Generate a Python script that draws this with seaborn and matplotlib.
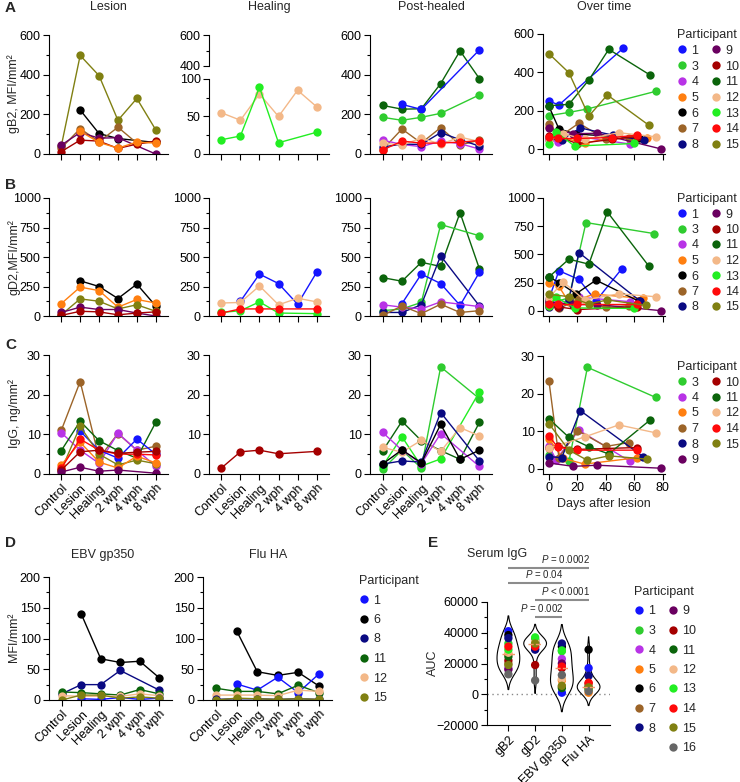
import numpy as np
import pandas as pd
import matplotlib
matplotlib.use("Agg")
import matplotlib.pyplot as plt
import seaborn as sns
from matplotlib.lines import Line2D
from matplotlib.ticker import MultipleLocator, NullLocator

sns.set_theme(style="ticks")
plt.rcParams['font.family'] = ['Liberation Sans', 'DejaVu Sans']
plt.rcParams.update({
    'mathtext.fontset': 'custom',
    'mathtext.rm': 'Liberation Sans',
    'mathtext.it': 'Liberation Sans:italic',
    'axes.linewidth': 0.8,
    'xtick.major.width': 0.8, 'ytick.major.width': 0.8,
    'xtick.minor.width': 0.8, 'ytick.minor.width': 0.8,
    'xtick.major.size': 4, 'ytick.major.size': 4,
    'xtick.minor.size': 2.5, 'ytick.minor.size': 2.5,
    'xtick.labelsize': 9, 'ytick.labelsize': 9,
    'xtick.major.pad': 2, 'ytick.major.pad': 2,
    'xtick.color': 'black', 'ytick.color': 'black',
    'axes.edgecolor': 'black',
})

# ---------------- colours ----------------
COLORS = {1: '#1414ff', 3: '#2fcc2f', 4: '#b833e6', 5: '#ff7f10', 6: '#000000',
          7: '#9c6428', 8: '#0a0a82', 9: '#6a0060', 10: '#a50000', 11: '#0b640b',
          12: '#f3b888', 13: '#22ee22', 14: '#ff0a0a', 15: '#808012', 16: '#666666'}

TIMEPOINTS = ["Control", "Lesion", "Healing", "2 wph", "4 wph", "8 wph"]
N = None

# ---------------- A: gB2 ----------------
A_LESION = {15: [40, 497, 395, 170, 280, 122], 6: [N, 222, 103, 78, N, 58],
            7: [30, 128, 62, 135, 55, 60], 9: [45, 108, 80, 82, N, 0],
            10: [12, 70, 65, 28, 50, 65], 5: [N, 115, 58, 30, 60, 55]}
A_HEALING = {12: [55, 45, 80, 50, 85, 63], 13: [19, 24, 89, 15, N, 29]}
A_POST = {11: [245, 226, 228, 355, 520, 380], 1: [N, 250, 225, N, N, 525],
          3: [185, 170, 185, 205, N, 298], 7: [22, 126, 55, 133, 45, 70],
          4: [70, 48, 37, 65, 52, 25], 8: [35, 50, 48, 108, 72, 40],
          12: [55, 45, 80, 50, 85, 63], 14: [20, 65, 55, 55, 60, 68]}
A_DAYS = {1: [0, 7, 52], 3: [0, 14, 27, 75], 4: [0, 6, 21, 57], 5: [0, 10, 25, 44, 69],
          6: [0, 7, 19, 63], 7: [0, 7, 21, 40, 56], 8: [0, 9, 22, 45, 67], 9: [0, 17, 34, 79],
          10: [0, 6, 20, 44, 62], 11: [0, 14, 28, 42, 71], 12: [0, 10, 25, 49, 75],
          13: [0, 5, 18, 60], 14: [0, 6, 20, 44, 62], 15: [0, 14, 28, 41, 70]}
A_TVALS = {1: [250, 230, 525], 3: [174, 191, 209, 301], 4: [48, 38, 65, 26], 5: [115, 58, 30, 60, 55],
           6: [222, 105, 78, 58], 7: [128, 62, 135, 50, 60], 8: [50, 48, 110, 72, 45], 9: [108, 80, 82, 0],
           10: [70, 65, 28, 50, 65], 11: [226, 233, 360, 520, 386], 12: [45, 80, 50, 85, 64],
           13: [24, 89, 15, 29], 14: [65, 55, 55, 60, 72], 15: [497, 398, 172, 282, 125]}

# ---------------- B: gD2 ----------------
B_LESION = {6: [N, 298, 250, 148, 270, 85], 5: [105, 245, 215, 75, 140, 110],
            15: [10, 145, 125, 60, 95, 40], 9: [30, 75, 55, 55, 25, 0],
            10: [5, 40, 35, 10, 25, 35]}
B_HEALING = {1: [N, 125, 355, 275, 100, 370], 12: [110, 115, 255, 95, 150, 120],
             13: [30, 45, 120, 25, N, 20], 14: [25, 60, 60, 60, N, 60]}
B_POST = {11: [325, 295, 455, 420, 875, 400], 3: [45, 60, 115, 775, N, 680],
          8: [30, 30, 95, 510, N, 85], 1: [N, 105, 355, 275, 90, 370],
          4: [95, 75, 60, 120, N, 80], 7: [5, 85, 20, 100, 30, 45]}
B_DAYS = {1: [0, 7, 21, 33, 51], 3: [0, 14, 26, 74], 4: [0, 5, 21, 57], 5: [0, 7, 14, 32, 66],
          6: [0, 7, 19, 33, 63], 7: [0, 7, 21, 40, 56], 8: [0, 7, 14, 21, 64], 9: [0, 17, 34, 79],
          10: [0, 6, 20, 62], 11: [0, 14, 28, 41, 70], 12: [0, 10, 25, 49, 75], 13: [0, 5, 18, 60],
          14: [0, 6, 20, 62], 15: [0, 14, 28, 41, 68]}
B_TVALS = {1: [105, 355, 277, 86, 370], 3: [60, 115, 782, 684], 4: [75, 60, 120, 80],
           5: [248, 215, 75, 147, 109], 6: [300, 250, 150, 271, 85], 7: [85, 20, 100, 30, 45],
           8: [35, 30, 95, 516, 86], 9: [75, 55, 55, 0], 10: [40, 35, 10, 35],
           11: [300, 457, 413, 876, 398], 12: [115, 255, 95, 150, 124], 13: [45, 120, 25, 20],
           14: [60, 60, 60, 60], 15: [145, 125, 60, 95, 48]}

# ---------------- C: IgG ----------------
C_LESION = {7: [11, 23.3, 4, 10.2, 6, 7], 4: [10.4, 6, 2.7, 10.3, 6, 2],
            11: [5.9, 13.3, 8.4, 5.9, 4, 13], 1: [N, 10.8, 6, 4, 8.8, 5],
            15: [1, 12, 5, 2.3, 3.5, 2.6], 5: [2.3, 8, 3, 1.5, 4.5, 2.8],
            14: [1.5, 8.8, 6, 5, 5, 4.8], 10: [1, 5.6, 6, 5.2, 5.5, 5.7],
            9: [0.5, 1.7, 0.7, 1.0, N, 0.2]}
C_HEALING = {10: [1.5, 5.6, 6.0, 5.1, N, 5.7]}
C_POST = {3: [1.2, 6, 1.5, 27, N, 19], 13: [2, 9.4, 2, 3.8, N, 20.7],
          11: [5.8, 13.3, 8.4, 5.9, 3.7, 13], 12: [6.7, 5.5, 8.5, 5.7, 11.7, 9.6],
          4: [10.5, 6, 2.6, 10.2, N, 1.9], 8: [2.5, 3.3, 3.0, 15.5, N, 3.3],
          6: [2.5, 6.1, 2.8, 12.5, 3.7, 6]}
C_DAYS = {3: [0, 14, 27, 75], 4: [0, 5, 21, 57], 5: [0, 10, 25, 62], 7: [0, 7, 20, 40, 56],
          8: [0, 9, 22, 66], 9: [0, 17, 34, 79], 10: [0, 6, 20, 62], 11: [0, 14, 28, 42, 71],
          12: [0, 25, 49, 75], 14: [0, 6, 20, 62], 15: [0, 14, 27, 42, 69]}
C_TVALS = {3: [3.7, 2, 27, 19], 4: [6, 2.5, 10.3, 2], 5: [8, 2.8, 1.3, 3], 7: [23.3, 3, 10.2, 6, 7],
           8: [3.3, 3, 15.5, 3.3], 9: [1.6, 0.7, 1.0, 0.2], 10: [5.6, 6, 5.2, 5.7],
           11: [13.3, 8.4, 5.9, 4, 13], 12: [5.5, 8.5, 11.7, 9.6], 14: [8.8, 5.8, 5, 5],
           15: [12, 5, 2.3, 3.5, 2.6]}

# ---------------- D: control antigens ----------------
D_EBV = {6: [N, 140, 67, 61, 63, 36], 8: [10, 25, 25, 48, N, 16], 11: [13, 12, 10, 8, 17, 10],
         12: [7, 6, 6, 6, 10, 7], 1: [N, 2, 1, 4, 1, 3], 15: [0, 8, 8, 3, 5, 3]}
D_FLU = {6: [N, 112, 46, 40, 45, 23], 1: [N, 26, 16, 37, 12, 42], 11: [19, 14, 14, 10, 24, 12],
         12: [8, 8, 8, 7, 16, 14], 8: [1, 2, 2, 1, 2, 1], 15: [0, 3, 2, 1, 2, 1]}

# ---------------- E: serum IgG AUC ----------------
E_ANTIGENS = ["gB2", "gD2", "EBV gp350", "Flu HA"]
E_PIDS = [1, 3, 4, 5, 6, 7, 8, 9, 10, 11, 12, 13, 14, 15, 16]
E_GB2 = [41000, 33000, 17000, 26000, 38500, 20000, 36500, 16000, 22000, 24500, 27000, 29000, 31000, 19000, 13000]
E_GD2 = [29500, 36000, 33000, 34000, 33500, 32500, 29000, 31000, 19000, 35000, 34500, 37000, 31000, 33000, 9000]
E_EBV = [1000, 28000, 23000, 9000, 31000, 5000, 33000, 20000, 17000, 4000, 10000, 28500, 18000, 5500, 12500]
E_FLU = [17000, 4000, 5000, 1000, 29000, 3000, 12000, 6000, 7000, 5000, 6000, 3500, 7500, 4500, 2000]
E_BRACKETS = [(0, 3, 82100, "$P$ = 0.0002"), (0, 2, 72400, "$P$ = 0.04"),
              (1, 3, 61300, "$P$ < 0.0001"), (1, 2, 50200, "$P$ = 0.002")]

LEG_A = [1, 3, 4, 5, 6, 7, 8, 9, 10, 11, 12, 13, 14, 15]
LEG_C = [3, 4, 5, 7, 8, 9, 10, 11, 12, 14, 15]
LEG_D = [1, 6, 8, 11, 12, 15]
LEG_E = [1, 3, 4, 5, 6, 7, 8, None, 9, 10, 11, 12, 13, 14, 15, 16]

# ---------------- figure ----------------
W, H = 740, 782
fig = plt.figure(figsize=(W / 100, H / 100), dpi=100)
PAL = {str(k): v for k, v in COLORS.items()}


def add_ax(l, t, r, b):
    return fig.add_axes([l / W, 1 - b / H, (r - l) / W, (b - t) / H])


def ftext(x, y, s, **kw):
    fig.text(x / W, 1 - y / H, s, **kw)


def plot_cat(ax, data):
    rows = [(str(p), i, v) for p, vals in data.items() for i, v in enumerate(vals) if v is not None]
    df = pd.DataFrame(rows, columns=['pid', 'pos', 'val'])
    sns.lineplot(data=df, x='pos', y='val', hue='pid', palette=PAL, marker='o', markersize=6,
                 markeredgewidth=0, linewidth=1, estimator=None, legend=False, ax=ax)


def plot_time(ax, days, vals):
    rows = [(str(p), d, v) for p in days for d, v in zip(days[p], vals[p])]
    df = pd.DataFrame(rows, columns=['pid', 'day', 'val'])
    sns.lineplot(data=df, x='day', y='val', hue='pid', palette=PAL, marker='o', markersize=6,
                 markeredgewidth=0, linewidth=1, estimator=None, legend=False, ax=ax)


def style_cat(ax, ylim, major, minor, labels=False):
    ax.set_xlim(-0.65, 5.65)
    ax.set_xticks(range(6))
    if labels:
        ax.set_xticklabels(TIMEPOINTS, rotation=45, ha='right', rotation_mode='anchor')
    else:
        ax.set_xticklabels([])
    ax.set_ylim(*ylim)
    ax.yaxis.set_major_locator(MultipleLocator(major))
    ax.yaxis.set_minor_locator(MultipleLocator(minor))
    ax.set_xlabel('')
    ax.set_ylabel('')
    sns.despine(ax=ax)


def style_time(ax, ylim, major, minor, labels=False):
    ax.set_xlim(-4.2, 81.5)
    ax.xaxis.set_major_locator(MultipleLocator(20))
    if not labels:
        ax.set_xticklabels([])
    ax.set_ylim(*ylim)
    ax.set_yticks(np.arange(0, ylim[1] + 1e-9, major))
    ax.yaxis.set_minor_locator(NullLocator())
    ax.set_xlabel('')
    ax.set_ylabel('')
    sns.despine(ax=ax)


def legend(pids, x, y, spacing):
    handles, labels = [], []
    for p in pids:
        if p is None:
            handles.append(Line2D([], [], lw=0, marker='o', color='none'))
            labels.append('')
        else:
            handles.append(Line2D([], [], lw=0, marker='o', markersize=6, markeredgewidth=0, color=COLORS[p]))
            labels.append(str(p))
    ncol = 2 if len(pids) > 6 else 1
    fig.legend(handles, labels, ncol=ncol, title='Participant', loc='upper left',
               bbox_to_anchor=(x / W, 1 - y / H), frameon=False, fontsize=9, title_fontsize=9,
               handlelength=0.8, handletextpad=0.35, columnspacing=1.0, labelspacing=spacing,
               borderpad=0, borderaxespad=0, alignment='left')


# ---- Row A ----
ax = add_ax(49, 35, 168, 154); plot_cat(ax, A_LESION); style_cat(ax, (0, 600), 200, 100)
axl = add_ax(209, 79, 329, 154); plot_cat(axl, A_HEALING); style_cat(axl, (0, 100), 50, 25)
axu = add_ax(209, 35, 329, 66)
axu.set_ylim(400, 600); axu.set_yticks([400, 600]); axu.yaxis.set_minor_locator(MultipleLocator(100))
axu.set_xticks([]); sns.despine(ax=axu, bottom=True)
ax = add_ax(370, 35, 492, 154); plot_cat(ax, A_POST); style_cat(ax, (0, 600), 200, 100)
ax = add_ax(543, 34, 665, 154); plot_time(ax, A_DAYS, A_TVALS); style_time(ax, (-26, 600), 200, 100)
legend(LEG_A, 677, 29, 0.3)

# ---- Row B ----
ax = add_ax(49, 198, 168, 316); plot_cat(ax, B_LESION); style_cat(ax, (0, 1000), 250, 125)
ax = add_ax(209, 198, 329, 316); plot_cat(ax, B_HEALING); style_cat(ax, (0, 1000), 250, 125)
ax = add_ax(370, 198, 492, 316); plot_cat(ax, B_POST); style_cat(ax, (0, 1000), 250, 125)
ax = add_ax(543, 198, 665, 316); plot_time(ax, B_DAYS, B_TVALS); style_time(ax, (-47, 1000), 250, 125)
legend(LEG_A, 677, 193, 0.28)

# ---- Row C ----
ax = add_ax(49, 355, 168, 474); plot_cat(ax, C_LESION); style_cat(ax, (0, 30), 10, 5, True)
ax = add_ax(209, 355, 329, 474); plot_cat(ax, C_HEALING); style_cat(ax, (0, 30), 10, 5, True)
ax = add_ax(370, 355, 492, 474); plot_cat(ax, C_POST); style_cat(ax, (0, 30), 10, 5, True)
ax = add_ax(543, 356, 665, 474); plot_time(ax, C_DAYS, C_TVALS); style_time(ax, (-1.33, 30), 10, 5, True)
ax.set_xlabel('Days after lesion', fontsize=9, labelpad=3)
legend(LEG_C, 677, 361, 0.28)

# ---- Row D ----
ax = add_ax(49, 577, 172, 700); plot_cat(ax, D_EBV); style_cat(ax, (0, 200), 50, 25, True)
ax = add_ax(203, 577, 332, 700); plot_cat(ax, D_FLU); style_cat(ax, (0, 200), 50, 25, True)
legend(LEG_D, 359, 575, 0.6)

# ---- Row E ----
ax = add_ax(487, 602, 610, 725)
rows = []
for ag, vals in zip(E_ANTIGENS, [E_GB2, E_GD2, E_EBV, E_FLU]):
    for p, v in zip(E_PIDS, vals):
        rows.append((ag, str(p), v))
dfe = pd.DataFrame(rows, columns=['antigen', 'pid', 'auc'])
ax.axhline(0, color='#888888', ls=(0, (1, 2.5)), lw=1, zorder=0)
sns.violinplot(data=dfe, x='antigen', y='auc', order=E_ANTIGENS, fill=False, color='black',
               linewidth=0.8, inner=None, density_norm='width', width=0.85, cut=2, ax=ax)
sns.stripplot(data=dfe, x='antigen', y='auc', order=E_ANTIGENS, hue='pid', palette=PAL,
              jitter=False, size=6, linewidth=0, legend=False, ax=ax, zorder=3)
for i, ag in enumerate(E_ANTIGENS):
    med = dfe.loc[dfe.antigen == ag, 'auc'].median()
    ax.plot([i - 0.25, i + 0.25], [med, med], ls='--', color='#f4996a', lw=1, zorder=4)
for x1, x2, yv, lab in E_BRACKETS:
    ax.plot([x1, x2], [yv, yv], color='#8c8c8c', lw=1.5, clip_on=False, solid_capstyle='butt')
    ax.annotate(lab, xy=(x2 + 0.05, yv), xytext=(0, 2), textcoords='offset points',
                ha='right', va='bottom', fontsize=7, annotation_clip=False)
ax.set_xlim(-0.8, 3.8)
ax.set_ylim(-20000, 60000)
ax.yaxis.set_major_locator(MultipleLocator(20000))
ax.yaxis.set_minor_locator(MultipleLocator(10000))
ax.set_xticks(range(4))
ax.set_xticklabels(E_ANTIGENS, rotation=45, ha='right', rotation_mode='anchor')
ax.set_xlabel('')
ax.set_ylabel('')
sns.despine(ax=ax)
legend(LEG_E, 634, 586, 0.6)

# ---- texts ----
for x, s in [(108, 'Lesion'), (269, 'Healing'), (431, 'Post-healed'), (604, 'Over time')]:
    ftext(x, 7, s, ha='center', va='center', fontsize=9)
ftext(103, 555, 'EBV gp350', ha='center', va='center', fontsize=9)
ftext(268, 555, 'Flu HA', ha='center', va='center', fontsize=9)
ftext(497, 554, 'Serum IgG', ha='center', va='center', fontsize=9)
for x, y, s in [(5, 8, 'A'), (5, 185, 'B'), (5, 345, 'C'), (5, 543, 'D'), (428, 543, 'E')]:
    ftext(x, y, s, ha='left', va='center', fontsize=11, fontweight='bold')
ftext(14, 94, 'gB2, MFI/mm²', rotation=90, ha='center', va='center', fontsize=9)
ftext(14, 257, 'gD2,MFI/mm²', rotation=90, ha='center', va='center', fontsize=9)
ftext(15, 414, 'IgG, ng/mm²', rotation=90, ha='center', va='center', fontsize=9)
ftext(14, 637, 'MFI/mm²', rotation=90, ha='center', va='center', fontsize=9)
ftext(433, 663, 'AUC', rotation=90, ha='center', va='center', fontsize=9)

fig.savefig('out.png', dpi=100)
